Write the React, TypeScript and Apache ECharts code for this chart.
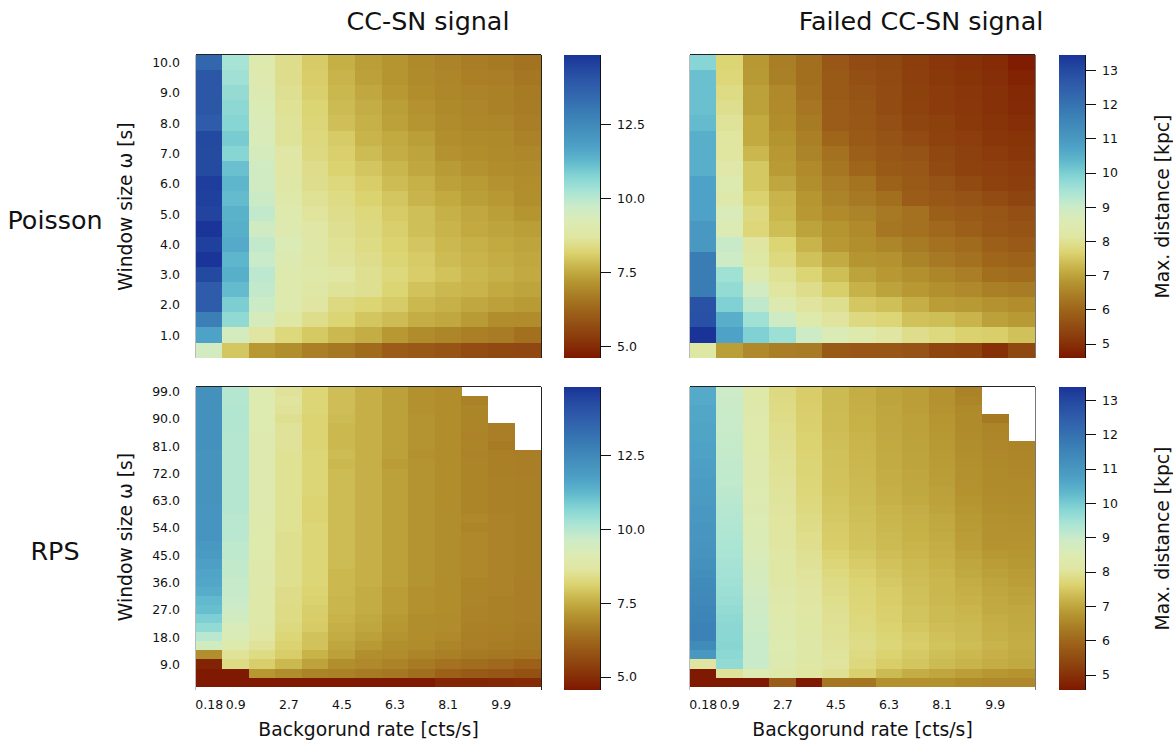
import React, { useEffect, useRef } from "react";
import * as echarts from "echarts";

const FONT = "DejaVu Sans";
const rates = ["0.18","0.9","1.8","2.7","3.6","4.5","5.4","6.3","7.2","8.1","9.0","9.9","10.8"];
const poissonWindows = ["10.0","9.5","9.0","8.5","8.0","7.5","7.0","6.5","6.0","5.5","5.0","4.5","4.0","3.5","3.0","2.5","2.0","1.5","1.0","0.5"];
const rpsWindows = ["99.0","96.0","93.0","90.0","87.0","84.0","81.0","78.0","75.0","72.0","69.0","66.0","63.0","60.0","57.0","54.0","51.0","48.0","45.0","42.0","39.0","36.0","33.0","30.0","27.0","24.0","21.0","18.0","15.0","12.0","9.0","6.0","3.0"];
const romaStops = ["#7e1700","#873208","#914a12","#9c6019","#a77a24","#b59530","#c8b44a","#dcd472","#e0e6a2","#dcebb4","#cbebc8","#a8e4d5","#84d4d4","#5fb8cc","#4da0c6","#4490bc","#3b80b6","#346eb0","#2f5caa","#254aa1","#1a3399"];
const poissonCCRange = [4.6, 14.83];
const poissonFailedRange = [4.59, 13.44];
const rpsCCRange = [4.56, 14.8];
const rpsFailedRange = [4.56, 13.38];
const ccTicks = [5, 7.5, 10, 12.5];
const failedTicks = [5, 6, 7, 8, 9, 10, 11, 12, 13];

const poissonCC: (number | null)[][] = [
  [13.5,10.23,9.0,8.45,8.03,7.6,7.3,7.15,6.95,6.82,6.7,6.62,6.5],
  [13.95,10.33,9.05,8.45,8.07,7.67,7.35,7.15,6.97,6.88,6.75,6.72,6.58],
  [13.95,10.5,9.15,8.5,8.1,7.72,7.45,7.2,7.0,6.9,6.82,6.78,6.65],
  [13.95,10.6,9.22,8.55,8.2,7.78,7.55,7.3,7.1,6.95,6.88,6.78,6.68],
  [13.8,10.69,9.3,8.6,8.25,7.85,7.62,7.35,7.15,6.98,6.9,6.88,6.72],
  [14.35,10.9,9.3,8.6,8.28,8.03,7.67,7.5,7.3,7.05,6.96,6.95,6.8],
  [14.3,10.69,9.4,8.72,8.33,8.1,7.8,7.55,7.4,7.1,7.0,6.96,6.9],
  [14.3,11.1,9.55,8.72,8.45,8.15,7.95,7.7,7.45,7.25,7.1,7.0,6.96],
  [14.6,11.3,9.55,8.8,8.45,8.28,8.07,7.8,7.62,7.35,7.25,7.1,7.0],
  [14.55,11.2,9.7,8.9,8.55,8.38,8.15,7.95,7.67,7.5,7.3,7.2,7.05],
  [14.45,11.4,9.85,9.0,8.64,8.45,8.28,8.03,7.85,7.62,7.45,7.3,7.15],
  [14.8,11.45,9.55,9.05,8.72,8.5,8.33,8.1,7.85,7.67,7.5,7.4,7.3],
  [14.55,11.55,9.85,9.25,8.8,8.55,8.38,8.15,7.95,7.75,7.62,7.5,7.4],
  [14.8,11.3,9.75,9.15,8.8,8.6,8.45,8.2,8.03,7.8,7.67,7.55,7.45],
  [14.35,11.45,9.95,9.0,8.9,8.72,8.5,8.28,8.07,7.9,7.72,7.62,7.5],
  [13.8,11.2,9.85,9.0,8.8,8.6,8.5,8.2,7.9,7.75,7.67,7.5,7.4],
  [13.8,10.85,9.7,9.0,8.68,8.33,8.2,8.03,7.75,7.62,7.45,7.35,7.25],
  [12.8,10.55,9.4,8.78,8.45,8.2,7.95,7.8,7.55,7.45,7.25,7.0,6.98],
  [11.71,9.45,8.68,8.28,8.0,7.75,7.55,7.2,6.98,6.88,6.75,6.68,6.45],
  [9.5,7.98,7.2,7.05,6.75,6.6,6.35,6.03,5.95,5.85,5.7,5.6,5.55],
];

const poissonFailed: (number | null)[][] = [
  [9.86,7.7,6.85,6.42,6.17,5.74,5.52,5.43,5.25,5.12,5.02,4.92,4.67],
  [10.21,7.75,6.88,6.46,6.17,5.79,5.57,5.48,5.28,5.17,5.07,4.97,4.8],
  [10.21,7.85,6.97,6.6,6.2,5.79,5.65,5.52,5.32,5.2,5.12,5.02,4.88],
  [10.21,7.95,6.97,6.63,6.3,5.83,5.7,5.52,5.35,5.2,5.15,5.02,4.9],
  [10.3,8.05,7.1,6.67,6.37,5.83,5.74,5.6,5.39,5.32,5.17,5.07,4.97],
  [10.5,8.1,7.1,6.78,6.46,6.0,5.79,5.65,5.52,5.35,5.25,5.12,5.07],
  [10.5,8.1,7.3,6.85,6.5,6.2,5.9,5.74,5.65,5.43,5.3,5.2,5.12],
  [10.5,8.28,7.52,6.89,6.63,6.3,6.0,5.79,5.74,5.48,5.35,5.28,5.2],
  [10.74,8.45,7.52,7.05,6.7,6.42,6.25,5.95,5.79,5.65,5.48,5.35,5.25],
  [10.74,8.35,7.65,7.24,6.82,6.5,6.35,6.17,5.83,5.74,5.65,5.52,5.39],
  [10.74,8.65,7.82,7.3,6.85,6.63,6.5,6.35,6.2,5.9,5.79,5.7,5.57],
  [11.0,8.55,7.75,7.38,7.0,6.8,6.63,6.3,6.2,6.05,5.9,5.74,5.65],
  [11.0,9.05,8.12,7.7,7.24,6.85,6.7,6.55,6.37,6.2,6.1,5.9,5.79],
  [11.75,8.95,8.2,7.8,7.42,7.12,6.8,6.75,6.5,6.35,6.2,6.0,5.95],
  [11.75,9.55,8.45,8.0,7.7,7.38,7.0,6.85,6.72,6.55,6.42,6.17,6.1],
  [11.75,9.7,8.84,8.1,7.92,7.6,7.22,7.0,6.85,6.72,6.6,6.46,6.38],
  [12.8,9.95,9.15,8.45,8.09,7.95,7.5,7.4,7.16,6.92,6.88,6.75,6.67],
  [12.85,10.5,9.55,8.9,8.38,8.09,7.82,7.73,7.42,7.38,7.25,6.97,6.88],
  [13.44,10.74,9.95,9.6,8.95,8.6,8.38,8.13,7.92,7.8,7.65,7.6,7.42],
  [8.2,6.93,6.6,6.42,6.38,5.8,5.74,5.74,5.65,5.39,5.35,5.0,5.43],
];

const rpsCC: (number | null)[][] = [
  [12.2,10.0,9.05,8.55,8.2,7.8,7.55,7.3,7.05,6.96,null,null,null],
  [12.2,10.0,9.05,8.6,8.2,7.8,7.55,7.3,7.05,6.96,6.75,null,null],
  [12.2,10.05,9.05,8.55,8.2,7.8,7.55,7.3,7.05,6.96,6.82,null,null],
  [12.2,10.05,9.05,8.45,8.15,7.75,7.55,7.3,7.1,6.96,6.82,null,null],
  [12.2,10.05,9.05,8.55,8.15,7.7,7.55,7.3,7.1,6.96,6.82,6.68,null],
  [12.2,10.0,9.0,8.55,8.15,7.7,7.55,7.3,7.1,6.96,6.78,6.68,null],
  [12.2,10.0,9.0,8.55,8.15,7.7,7.55,7.3,7.1,6.96,6.82,6.6,null],
  [12.15,10.0,9.0,8.5,8.2,7.75,7.55,7.3,7.05,6.96,6.78,6.72,6.68],
  [12.15,10.0,9.0,8.5,8.2,7.7,7.55,7.25,7.1,6.96,6.82,6.72,6.68],
  [12.15,10.0,9.0,8.5,8.2,7.75,7.55,7.3,7.1,6.96,6.82,6.72,6.68],
  [12.15,10.0,9.0,8.5,8.2,7.75,7.55,7.3,7.1,6.96,6.82,6.75,6.72],
  [12.15,10.0,9.0,8.5,8.2,7.75,7.55,7.3,7.1,6.96,6.82,6.75,6.72],
  [12.15,10.0,9.0,8.5,8.15,7.75,7.55,7.3,7.1,6.96,6.82,6.75,6.72],
  [12.1,10.0,9.0,8.5,8.15,7.75,7.55,7.3,7.1,6.98,6.82,6.75,6.72],
  [12.1,9.95,8.95,8.5,8.15,7.75,7.55,7.3,7.1,6.98,6.88,6.78,6.72],
  [12.1,9.95,8.95,8.5,8.2,7.75,7.55,7.3,7.1,6.98,6.82,6.78,6.72],
  [12.1,9.95,8.95,8.45,8.2,7.75,7.55,7.3,7.1,6.98,6.88,6.78,6.72],
  [12.0,9.85,8.95,8.45,8.2,7.75,7.55,7.3,7.1,6.98,6.88,6.78,6.72],
  [11.9,9.85,8.95,8.45,8.2,7.75,7.55,7.3,7.1,6.98,6.88,6.78,6.72],
  [11.75,9.8,8.9,8.45,8.2,7.75,7.55,7.3,7.1,6.98,6.88,6.78,6.72],
  [11.65,9.8,8.9,8.45,8.2,7.7,7.55,7.3,7.1,6.98,6.88,6.78,6.72],
  [11.6,9.75,8.9,8.45,8.2,7.7,7.55,7.3,7.1,6.98,6.82,6.78,6.68],
  [11.45,9.75,8.85,8.38,8.15,7.7,7.5,7.25,7.05,6.96,6.82,6.78,6.68],
  [11.2,9.7,8.85,8.38,8.1,7.67,7.5,7.25,7.05,6.96,6.82,6.75,6.68],
  [11.1,9.6,8.85,8.33,8.05,7.67,7.5,7.25,7.05,6.96,6.78,6.75,6.68],
  [10.8,9.5,8.85,8.33,8.03,7.62,7.45,7.2,6.98,6.95,6.78,6.75,6.68],
  [10.5,9.3,8.8,8.28,8.0,7.55,7.4,7.15,6.98,6.95,6.75,6.72,6.65],
  [9.95,9.25,8.72,8.2,7.85,7.5,7.3,7.1,6.97,6.9,6.72,6.68,6.6],
  [9.5,8.95,8.55,8.13,7.85,7.4,7.2,7.0,6.95,6.82,6.68,6.65,6.58],
  [7.0,8.55,8.33,8.03,7.62,7.3,7.0,6.95,6.82,6.72,6.58,6.55,6.5],
  [4.8,8.33,8.05,7.7,7.35,7.0,6.9,6.8,6.6,6.45,6.35,6.25,6.1],
  [4.6,4.6,7.15,6.98,6.8,6.75,6.6,6.55,6.35,6.1,5.95,5.85,5.75],
  [4.6,4.6,4.6,4.6,4.6,4.6,4.6,4.6,4.6,4.85,4.85,4.9,4.95],
];

const rpsFailed: (number | null)[][] = [
  [10.55,8.95,8.26,7.78,7.55,7.29,7.1,6.98,6.89,6.71,6.45,null,null],
  [10.55,8.97,8.27,7.8,7.55,7.3,7.12,6.98,6.9,6.72,6.5,null,null],
  [10.6,8.98,8.28,7.82,7.57,7.3,7.14,7.0,6.9,6.75,6.58,null,null],
  [10.6,9.0,8.3,7.85,7.58,7.32,7.16,7.0,6.92,6.78,6.6,6.3,null],
  [10.65,9.0,8.32,7.88,7.6,7.32,7.18,7.02,6.93,6.8,6.6,6.5,null],
  [10.65,9.02,8.33,7.9,7.62,7.35,7.2,7.04,6.95,6.82,6.62,6.52,null],
  [10.7,9.05,8.34,7.92,7.63,7.36,7.22,7.06,6.96,6.84,6.65,6.54,6.5],
  [10.7,9.06,8.36,7.94,7.65,7.38,7.24,7.08,6.98,6.85,6.67,6.56,6.52],
  [10.75,9.08,8.38,7.96,7.67,7.38,7.26,7.08,6.98,6.87,6.68,6.58,6.54],
  [10.8,9.1,8.38,7.98,7.68,7.4,7.27,7.1,7.0,6.88,6.7,6.6,6.56],
  [10.85,9.1,8.4,8.0,7.7,7.4,7.28,7.1,7.0,6.89,6.7,6.6,6.58],
  [10.85,9.15,8.42,8.02,7.72,7.42,7.3,7.14,7.03,6.92,6.73,6.62,6.6],
  [10.9,9.2,8.45,8.03,7.75,7.45,7.32,7.17,7.06,6.95,6.76,6.64,6.62],
  [10.95,9.23,8.48,8.05,7.78,7.47,7.34,7.2,7.1,6.98,6.8,6.66,6.65],
  [10.95,9.26,8.5,8.06,7.82,7.5,7.36,7.23,7.13,7.02,6.83,6.7,6.68],
  [11.0,9.3,8.53,8.07,7.85,7.52,7.38,7.26,7.16,7.05,6.85,6.72,6.7],
  [11.0,9.34,8.55,8.08,7.88,7.53,7.4,7.28,7.18,7.08,6.88,6.74,6.72],
  [11.05,9.37,8.57,8.09,7.9,7.55,7.42,7.3,7.2,7.1,6.9,6.75,6.75],
  [11.1,9.4,8.62,8.12,7.94,7.62,7.48,7.35,7.24,7.14,6.95,6.82,6.78],
  [11.15,9.43,8.66,8.15,7.98,7.7,7.54,7.4,7.28,7.18,7.0,6.88,6.82],
  [11.2,9.47,8.7,8.17,8.02,7.76,7.6,7.45,7.32,7.22,7.05,6.92,6.86],
  [11.3,9.5,8.75,8.2,8.05,7.82,7.65,7.5,7.35,7.25,7.1,6.98,6.9],
  [11.35,9.55,8.8,8.24,8.08,7.85,7.68,7.53,7.37,7.26,7.14,7.01,6.94],
  [11.4,9.6,8.85,8.28,8.1,7.88,7.7,7.55,7.39,7.27,7.18,7.04,6.98],
  [11.45,9.66,8.9,8.32,8.13,7.92,7.72,7.58,7.41,7.29,7.22,7.07,7.02],
  [11.5,9.72,8.93,8.35,8.15,7.95,7.75,7.6,7.42,7.3,7.25,7.1,7.05],
  [11.55,9.76,8.95,8.38,8.17,7.97,7.78,7.63,7.47,7.35,7.28,7.14,7.07],
  [11.55,9.78,8.98,8.4,8.18,7.98,7.82,7.67,7.52,7.39,7.3,7.17,7.09],
  [11.3,9.8,9.0,8.42,8.2,8.0,7.85,7.7,7.55,7.42,7.33,7.2,7.1],
  [10.96,9.75,9.0,8.41,8.18,8.02,7.8,7.62,7.5,7.36,7.27,7.15,7.08],
  [8.1,9.68,9.0,8.4,8.15,8.05,7.75,7.55,7.45,7.3,7.2,7.1,7.05],
  [4.59,8.0,8.44,8.3,8.1,7.95,7.6,7.3,7.1,7.0,6.9,6.8,6.75],
  [4.59,4.59,4.59,5.8,4.59,6.27,6.25,6.7,6.7,6.7,6.6,6.55,6.55],
];

const cells = (rows: (number | null)[][]) =>
  rows.flatMap((row, i) =>
    row.flatMap((v, j) => (v === null ? [] : [[j, rows.length - 1 - i, v]]))
  );

const tickText = { fontFamily: FONT, fontSize: 12.5, color: "#111" };
const nameText = { fontFamily: FONT, fontSize: 18.75, color: "#111" };
const bigText = { fontFamily: FONT, fontSize: 25.4, fontWeight: "normal" as const, color: "#111" };

const W = 345;
const H = 303;
const panels = [
  { left: 196, top: 55, rows: poissonCC, windows: poissonWindows, every: 2, name: true, bottom: false, edge: "#222", range: poissonCCRange },
  { left: 690, top: 55, rows: poissonFailed, windows: poissonWindows, every: 2, name: false, bottom: false, edge: "#777", range: poissonFailedRange },
  { left: 196, top: 387, rows: rpsCC, windows: rpsWindows, every: 3, name: true, bottom: true, edge: "#222", range: rpsCCRange },
  { left: 690, top: 387, rows: rpsFailed, windows: rpsWindows, every: 3, name: false, bottom: true, edge: "#777", range: rpsFailedRange },
];
const bars = [
  { left: 564, top: 55, range: poissonCCRange, ticks: ccTicks, digits: 1, name: false },
  { left: 1059, top: 55, range: poissonFailedRange, ticks: failedTicks, digits: 0, name: true },
  { left: 564, top: 387, range: rpsCCRange, ticks: ccTicks, digits: 1, name: false },
  { left: 1059, top: 387, range: rpsFailedRange, ticks: failedTicks, digits: 0, name: true },
];

export default function App() {
  const ref = useRef<HTMLDivElement>(null);
  useEffect(() => {
    const chart = echarts.init(ref.current!, undefined, { renderer: "svg" });
    const grid: any[] = [];
    const xAxis: any[] = [];
    const yAxis: any[] = [];
    const series: any[] = [];
    const frame: any[] = [];

    panels.forEach((p, k) => {
      grid.push({ left: p.left, top: p.top, width: W, height: H, show: false });
      xAxis.push({
        type: "category", gridIndex: k, data: rates,
        axisLine: { show: false }, axisTick: { show: false }, splitLine: { show: false }, splitArea: { show: false },
        axisLabel: { show: p.bottom, margin: 11, ...tickText, interval: (i: number) => i === 0 || i % 2 === 1 },
        name: p.bottom ? "Backgorund rate [cts/s]" : "", nameLocation: "middle", nameGap: 33, nameTextStyle: nameText,
      });
      yAxis.push({
        type: "category", gridIndex: k, data: [...p.windows].reverse(),
        axisLine: { show: false }, axisTick: { show: false }, splitLine: { show: false }, splitArea: { show: false },
        axisLabel: { show: p.name, margin: 16, ...tickText, interval: (i: number) => (i + 1) % p.every === 0 },
        name: p.name ? "Window size ω [s]" : "", nameLocation: "middle", nameGap: 61, nameRotate: 90, nameTextStyle: nameText,
      });
      series.push({
        type: "heatmap", xAxisIndex: k, yAxisIndex: k, data: cells(p.rows),
        itemStyle: { borderWidth: 0 }, emphasis: { disabled: true }, progressive: 0,
      });
      frame.push({
        type: "polyline", silent: true, z: 100,
        shape: { points: [[p.left, p.top - 0.5], [p.left + W, p.top - 0.5]] },
        style: { stroke: "#222", lineWidth: 1, fill: "none" },
      });
      frame.push({
        type: "polyline", silent: true, z: 100,
        shape: { points: [[p.left + W + 0.5, p.top], [p.left + W + 0.5, p.top + H]] },
        style: { stroke: p.edge, lineWidth: 1, fill: "none" },
      });
      frame.push({
        type: "polyline", silent: true, z: 100,
        shape: { points: [[p.left - 0.5, p.top], [p.left - 0.5, p.top + H]] },
        style: { stroke: "#bbb", lineWidth: 1, fill: "none" },
      });
    });

    bars.forEach((b, n) => {
      const k = panels.length + n;
      grid.push({ left: b.left, top: b.top, width: 36, height: H, show: false });
      xAxis.push({ type: "value", gridIndex: k, min: 0, max: 1, show: false });
      yAxis.push({
        type: "value", gridIndex: k, min: b.range[0], max: b.range[1], position: "right",
        axisLine: { show: true, onZero: false, lineStyle: { color: "#111", width: 1 } },
        axisTick: { show: true, length: 11, lineStyle: { color: "#111", width: 1 }, customValues: b.ticks },
        axisLabel: { show: true, margin: 17, ...tickText, customValues: b.ticks, formatter: (v: number) => v.toFixed(b.digits) },
        splitLine: { show: false },
        name: b.name ? "Max. distance [kpc]" : "", nameLocation: "middle", nameGap: 68, nameRotate: 90, nameTextStyle: nameText,
      });
      series.push({
        type: "custom", xAxisIndex: k, yAxisIndex: k, silent: true,
        data: [[0, b.range[0], 1, b.range[1]]],
        renderItem: (_: any, api: any) => {
          const a = api.coord([api.value(0), api.value(1)]);
          const c = api.coord([api.value(2), api.value(3)]);
          return {
            type: "rect",
            shape: { x: a[0], y: c[1], width: c[0] - a[0], height: a[1] - c[1] },
            style: {
              fill: new echarts.graphic.LinearGradient(0, 1, 0, 0,
                romaStops.map((color, i) => ({ offset: i / (romaStops.length - 1), color }))),
            },
          };
        },
      });
    });

    chart.setOption({
      animation: false,
      backgroundColor: "#fff",
      title: [
        { text: "CC-SN signal", left: 428, top: 8, padding: 0, textAlign: "center", textStyle: bigText },
        { text: "Failed CC-SN signal", left: 921, top: 8, padding: 0, textAlign: "center", textStyle: bigText },
        { text: "Poisson", left: 55, top: 207, padding: 0, textAlign: "center", textStyle: bigText },
        { text: "RPS", left: 55, top: 538, padding: 0, textAlign: "center", textStyle: bigText },
      ],
      visualMap: panels.map((p, k) => ({
        show: false, type: "continuous", seriesIndex: k, min: p.range[0], max: p.range[1], inRange: { color: romaStops },
      })),
      grid, xAxis, yAxis, series,
      graphic: frame,
    });
    return () => chart.dispose();
  }, []);
  return <div ref={ref} style={{ position: "fixed", left: 0, top: 0, width: 1173, height: 740, shapeRendering: "crispEdges" }} />;
}
